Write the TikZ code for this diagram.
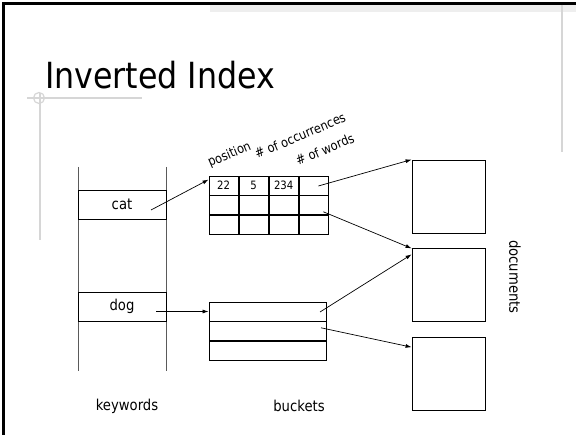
\documentclass[tikz,border=0pt]{standalone}
\usepackage{fontspec}
\setmainfont[FakeStretch=0.88]{DejaVu Sans}
\usetikzlibrary{arrows.meta, positioning}
\definecolor{deco}{RGB}{214,214,214}
\definecolor{band}{RGB}{238,238,238}
\definecolor{rail}{RGB}{90,90,90}

\begin{document}
\begin{tikzpicture}[
  x=1pt, y=-1pt,
  node distance=0pt,
  key/.style={draw, line width=0.8pt, fill=white, minimum width=88pt, minimum height=29pt,
              inner sep=0pt, font=\fontsize{15}{18}\selectfont},
  cell/.style={draw, line width=0.8pt, minimum width=29.25pt, minimum height=19pt,
               inner sep=0pt, font=\fontsize{11.5}{13}\selectfont},
  bucket/.style={draw, line width=0.8pt, minimum width=117pt, minimum height=19pt, inner sep=0pt},
  doc/.style={draw, line width=0.8pt, minimum width=73pt, minimum height=73pt, inner sep=0pt},
  lbl/.style={font=\fontsize{15}{18}\selectfont, inner sep=0pt},
  head/.style={font=\fontsize{13}{15}\selectfont, rotate=23, anchor=base west, inner sep=0pt},
  arr/.style={-{Latex[length=6pt,width=4pt]}, line width=0.7pt}
]
  \useasboundingbox (0,0) rectangle (576,435);
  \fill[white] (0,0) rectangle (576,435);

  % slide frame and ornaments
  \fill[band] (210,5) rectangle (576,12);
  \draw[line width=3.3pt] (3.3,435) -- (3.3,3.3) -- (576,3.3);
  \draw[deco, line width=1.5pt] (562,5) -- (562,152);
  \draw[deco, line width=1.5pt] (27,98) -- (142,98);
  \draw[deco, line width=1.5pt] (40,93) -- (40,240);
  \draw[deco, line width=1.2pt] (39,98) circle (5.5);

  \node[font=\fontsize{36}{40}\selectfont, anchor=base west, inner sep=0pt] (title) at (45,89) {Inverted Index};

  % keyword column
  \draw[rail, line width=0.8pt] (78,167) -- (78,371);
  \draw[rail, line width=0.8pt] (166,167) -- (166,371);
  \node[key] (cat) at (122,204.5) {cat};
  \node[key] (dog) at (122,306.5) {dog};

  % bucket table for cat
  \node[cell] (t11) at (223.6,185.5) {22};
  \node[cell, right=of t11] (t12) {5};
  \node[cell, right=of t12] (t13) {234};
  \node[cell, right=of t13] (t14) {};
  \node[cell, below=of t11] (t21) {};
  \node[cell, right=of t21] (t22) {};
  \node[cell, right=of t22] (t23) {};
  \node[cell, right=of t23] (t24) {};
  \node[cell, below=of t21] (t31) {};
  \node[cell, right=of t31] (t32) {};
  \node[cell, right=of t32] (t33) {};
  \node[cell, right=of t33] (t34) {};

  \node[head] (hpos) at (210,167) {position};
  \node[head] (hocc) at (257,159) {\# of occurrences};
  \node[head] (hwrd) at (298,166) {\# of words};

  % buckets for dog
  \node[bucket] (b1) at (267.5,311.5) {};
  \node[bucket, below=of b1] (b2) {};
  \node[bucket, below=of b2] (b3) {};

  % documents
  \node[doc] (doc1) at (448.5,196.5) {};
  \node[doc, below=15pt of doc1] (doc2) {};
  \node[doc, below=15pt of doc2] (doc3) {};

  \node[lbl] (kwlbl) at (127,406) {keywords};
  \node[lbl] (bklbl) at (299,406) {buckets};
  \node[lbl, rotate=-90] (doclbl) at (515,277) {documents};

  % pointers
  \coordinate (catp) at ([shift={(29,5.5)}]cat.center);
  \coordinate (dogp) at ([shift={(34,5)}]dog.center);
  \coordinate (t14p) at ([shift={(4.6,0.5)}]t14.center);
  \coordinate (t24p) at ([shift={(9.6,6.5)}]t24.center);
  \coordinate (b1p) at ([shift={(52.5,0.5)}]b1.center);
  \coordinate (b2p) at ([shift={(53.5,-3.5)}]b2.center);

  \draw[arr] (catp) -- ([shift={(0,4)}]t11.north west);
  \draw[arr] (dogp) -- (b1.west);
  \draw[arr] (t14p) -- (doc1.north west);
  \draw[arr] (t24p) -- (doc2.north west);
  \draw[arr] (b1p) -- ([shift={(0,6)}]doc2.north west);
  \draw[arr] (b2p) -- ([shift={(0,10)}]doc3.north west);
\end{tikzpicture}
\end{document}
